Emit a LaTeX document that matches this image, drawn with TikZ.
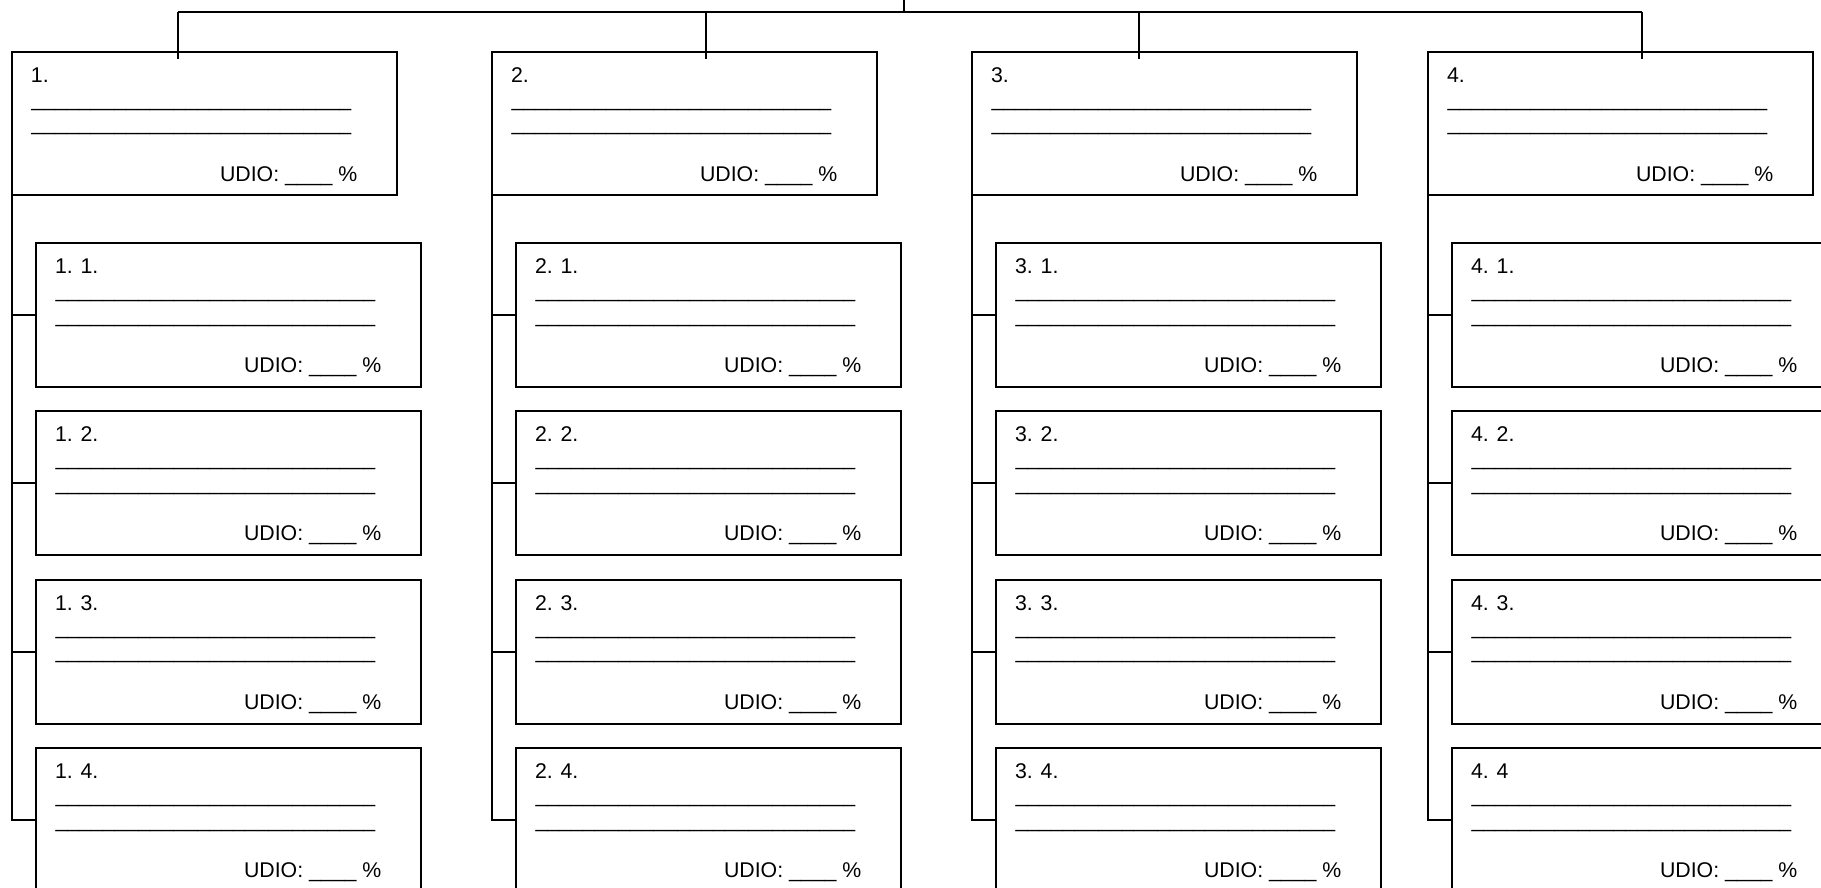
\documentclass[tikz,border=0pt]{standalone}
\usepackage{fontspec}
\setmainfont{Liberation Sans}
\newcommand{\myblank}{\_\_\_\_\_\_\_\_\_\_\_\_\_\_\_\_\_\_\_\_\_\_\_\_\_\_\_}
\newcommand{\boxtexts}[2]{%
  \node[txt, anchor=base west] (#1l) at ([shift={(19,30.5)}]#1.north west) {#2};
  \node[txt, anchor=base west] (#1a) at ([shift={(19.5,54.5)}]#1.north west) {\myblank};
  \node[txt, anchor=base west] (#1b) at ([shift={(19.5,79)}]#1.north west) {\myblank};
  \node[txt, anchor=base west] (#1u) at ([shift={(208,129.5)}]#1.north west) {UDIO: \_\_\_\_ \%};
}
\begin{document}
\begin{tikzpicture}[x=0.5pt,y=-0.5pt, line width=1pt,
  box/.style={draw, rectangle, minimum width=192.5pt, inner sep=0pt, outer sep=0pt, anchor=north west},
  pbox/.style={box, minimum height=71.5pt},
  cbox/.style={box, minimum height=72pt},
  txt/.style={inner sep=0pt, outer sep=0pt, font=\fontsize{10.65}{12.8}\selectfont},
  conn/.style={line width=1pt}]
\useasboundingbox (0,0) rectangle (1821,888);
\clip (0,0) rectangle (1821,888);
\coordinate (root) at (904,0);
\coordinate (t1) at (178,12);
\coordinate (t4) at (1642,12);
\draw[conn] (root) -- (root |- t1);
\draw[conn] (t1) -- (t4);
\foreach \i/\px/\tx in {1/12/178, 2/492/706, 3/972/1139, 4/1428/1642} {
  \node[pbox] (p\i) at (\px,52) {};
  \boxtexts{p\i}{\i.}
  \coordinate (t\i) at (\tx,12);
  \draw[conn] (t\i) -- ([yshift=-3.5pt]t\i |- p\i.north);
  \foreach \j/\cy in {1/243, 2/411.33, 3/579.67, 4/748} {
    \ifnum\i\j=44 \edef\lab{4. 4}\else\edef\lab{\i. \j.}\fi
    \node[cbox] (c\i\j) at (\px+24,\cy) {};
    \boxtexts{c\i\j}{\lab}
  }
  \draw[conn] (p\i.south west) -- (p\i.south west |- c\i4.west) -- (c\i4.west);
  \foreach \j in {1,2,3} {
    \draw[conn] (p\i.south west |- c\i\j.west) -- (c\i\j.west);
  }
}
\end{tikzpicture}
\end{document}
